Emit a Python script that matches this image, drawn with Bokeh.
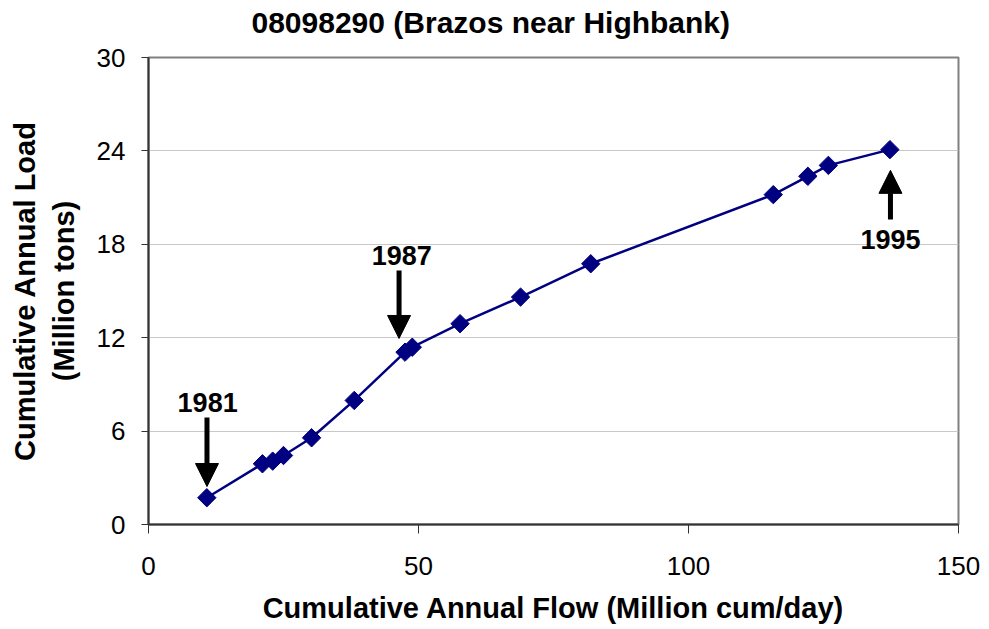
import math
from bokeh.plotting import figure
from bokeh.models import Range1d, FixedTicker, Arrow, NormalHead, ColumnDataSource
from bokeh.core.properties import value
from bokeh.embed import file_html
from bokeh.resources import INLINE

# ---- data ----
flow = [10.8, 21.1, 23.0, 25.0, 30.2, 38.1, 47.5, 48.85, 57.7, 68.9, 81.9, 115.7, 122.1, 125.9, 137.3]
load = [1.72, 3.90, 4.07, 4.43, 5.57, 7.97, 11.07, 11.39, 12.9, 14.61, 16.75, 21.19, 22.37, 23.07, 24.08]

x_ticks = [0, 50, 100, 150]
y_ticks = [0, 6, 12, 18, 24, 30]

title_text = "08098290 (Brazos near Highbank)"

# annotation arrows (years)
years = ["1981", "1987", "1995"]
arrow_x = [10.83, 46.4, 137.4]
arrow_tail = [6.88, 16.32, 19.6]
arrow_tip = [2.44, 11.95, 22.75]
year_x = [10.95, 46.9, 137.4]
year_y = [7.85, 17.3, 18.33]

FONT = "Liberation Sans"

p = figure(width=981, height=626, output_backend="svg", toolbar_location=None,
           x_range=Range1d(0, 150), y_range=Range1d(0, 30),
           min_border_left=148, min_border_right=23, min_border_top=57, min_border_bottom=102)

# a second (blank) line lifts the title within the top border
p.title.text = title_text + "\n\u00a0"
p.title.text_font = FONT
p.title.text_font_size = "30px"
p.title.text_font_style = "bold"
p.title.text_color = "black"
p.title.text_line_height = 0.46
p.title.align = "left"
p.title.offset = 103
p.title.vertical_align = "top"
p.title.standoff = 4

p.outline_line_color = "#808080"
p.outline_line_width = 2
p.background_fill_color = "white"
p.border_fill_color = "white"

p.xgrid.visible = False
p.ygrid.grid_line_color = "#c8c8c8"
p.ygrid.grid_line_width = 1

for ax in (p.xaxis[0], p.yaxis[0]):
    ax.axis_line_color = "#333333"
    ax.axis_line_width = 2
    ax.major_tick_line_color = "#333333"
    ax.major_tick_line_width = 1
    ax.major_tick_in = 0
    ax.minor_tick_line_color = None
    ax.major_label_text_font = FONT
    ax.major_label_text_font_size = "26px"
    ax.major_label_text_color = "black"
    ax.axis_label_text_font = FONT
    ax.axis_label_text_font_size = "29px"
    ax.axis_label_text_font_style = "bold"
    ax.axis_label_text_color = "black"

p.xaxis.ticker = FixedTicker(ticks=x_ticks)
p.yaxis.ticker = FixedTicker(ticks=y_ticks)
p.ygrid.ticker = FixedTicker(ticks=y_ticks)
p.xaxis.major_tick_out = 9
p.yaxis.major_tick_out = 7
p.xaxis.major_label_standoff = 23
p.yaxis.major_label_standoff = 16
p.xaxis.axis_label = "Cumulative Annual Flow (Million cum/day)"
p.yaxis.axis_label = "Cumulative Annual Load\n(Million tons)"
p.xaxis.axis_label_standoff = 14
p.yaxis.axis_label_standoff = 14

src = ColumnDataSource(dict(x=flow, y=load))
p.line("x", "y", source=src, line_color="#000080", line_width=2.5)
p.scatter("x", "y", source=src, marker="square", angle=math.pi / 4, size=13,
          fill_color="#000080", line_color="#000080")

for ax_, t0, t1 in zip(arrow_x, arrow_tail, arrow_tip):
    p.add_layout(Arrow(end=NormalHead(size=23, fill_color="black", line_color="black", line_width=1),
                       x_start=ax_, y_start=t0, x_end=ax_, y_end=t1,
                       line_color="black", line_width=5))

ysrc = ColumnDataSource(dict(x=year_x, y=year_y, t=years))
p.text("x", "y", text="t", source=ysrc, text_font=value(FONT), text_font_size="27px",
       text_font_style="bold", text_align="center", text_baseline="middle", text_color="black")

open("out.html", "w").write(file_html(p, INLINE))
